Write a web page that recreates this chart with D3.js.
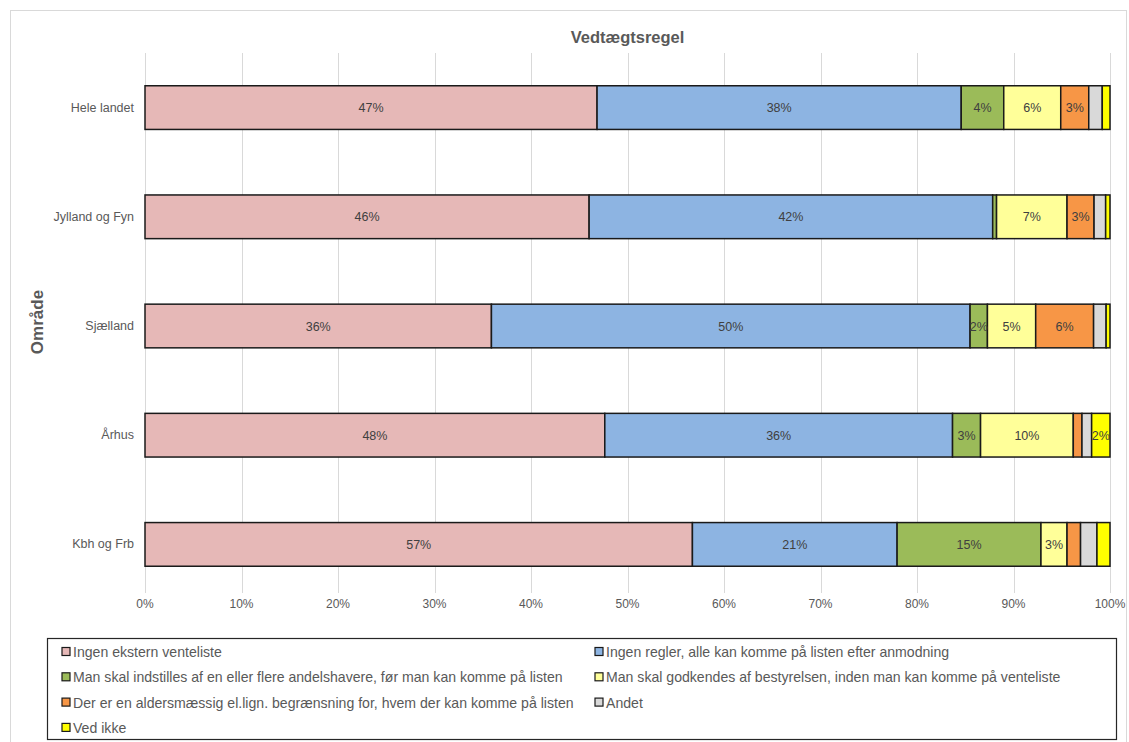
<!DOCTYPE html>
<html>
<head>
    <title>Vedtægtsregel</title>
    <style>
        body { margin: 0; background: #ffffff; }
        #chart text { font-family: "Liberation Sans", Arial, sans-serif; fill: #595959; }
        .grid line { stroke: #d9d9d9; stroke-width: 1; }
        .seg { stroke: #1a1a1a; stroke-width: 1.5; }
    </style>
    <script src="https://d3js.org/d3.v7.min.js"></script>
</head>
<body>
<div id="chart"></div>
<script>
    // data (percent of each area)
    var categories = ["Hele landet", "Jylland og Fyn", "Sjælland", "Århus", "Kbh og Frb"];
    var seriesNames = [
        "Ingen ekstern venteliste",
        "Ingen regler, alle kan komme på listen efter anmodning",
        "Man skal indstilles af en eller flere andelshavere, før man kan komme på listen",
        "Man skal godkendes af bestyrelsen, inden man kan komme på venteliste",
        "Der er en aldersmæssig el.lign. begrænsning for, hvem der kan komme på listen",
        "Andet",
        "Ved ikke"
    ];
    var ingenEkstern = [46.8, 46.0, 35.9, 47.6, 56.7];
    var ingenRegler  = [37.7, 41.8, 49.6, 36.0, 21.2];
    var indstilles   = [4.4, 0.4, 1.8, 2.9, 14.9];
    var godkendes    = [5.9, 7.3, 5.0, 9.6, 2.7];
    var alder        = [2.9, 2.8, 6.0, 0.9, 1.4];
    var andet        = [1.4, 1.2, 1.3, 1.0, 1.7];
    var vedIkke      = [0.8, 0.45, 0.4, 1.9, 1.35];
    var xTicks = [0, 0.1, 0.2, 0.3, 0.4, 0.5, 0.6, 0.7, 0.8, 0.9, 1];
    var colors = ["#e6b8b7", "#8db4e2", "#9bbb59", "#ffff99", "#f79646", "#d9d9d9", "#ffff00"];

    var allSeries = [ingenEkstern, ingenRegler, indstilles, godkendes, alder, andet, vedIkke];
    var rows = categories.map(function(c, i) {
        var r = { cat: c };
        seriesNames.forEach(function(s, j) { r[s] = allSeries[j][i]; });
        return r;
    });

    var width = 1129, height = 742;
    var plotLeft = 145, plotRight = 1110, plotTop = 53, plotBottom = 599;

    var svg = d3.select("#chart").append("svg")
        .attr("width", width)
        .attr("height", height);

    // outer frame
    svg.append("rect")
        .attr("x", 10.5).attr("y", 10.5)
        .attr("width", 1116).attr("height", 740)
        .attr("fill", "none").attr("stroke", "#d9d9d9");

    var x = d3.scaleLinear().domain([0, 1]).range([plotLeft, plotRight]);
    var y = d3.scaleBand().domain(categories).range([plotTop, plotBottom]).paddingInner(0.6).paddingOuter(0.3);

    var color = d3.scaleOrdinal().domain(seriesNames).range(colors);

    // grid
    svg.append("g").attr("class", "grid")
        .selectAll("line").data(xTicks).enter().append("line")
        .attr("x1", function(d) { return Math.round(x(d)) + 0.5; })
        .attr("x2", function(d) { return Math.round(x(d)) + 0.5; })
        .attr("y1", plotTop).attr("y2", plotBottom - 6);

    // x tick labels
    svg.append("g").selectAll("text").data(xTicks).enter().append("text")
        .attr("x", function(d) { return x(d); })
        .attr("y", plotBottom + 9)
        .attr("text-anchor", "middle")
        .style("font-size", "12px")
        .text(function(d) { return Math.round(d * 100) + "%"; });

    // category labels
    svg.append("g").selectAll("text").data(categories).enter().append("text")
        .attr("x", plotLeft - 11)
        .attr("y", function(d) { return y(d) + y.bandwidth() / 2 + 4; })
        .attr("text-anchor", "end")
        .style("font-size", "12.5px")
        .text(function(d) { return d; });

    var stack = d3.stack().keys(seriesNames).offset(d3.stackOffsetExpand);
    var stacked = stack(rows);

    var layer = svg.append("g").selectAll("g").data(stacked).enter().append("g")
        .attr("fill", function(d) { return color(d.key); });

    layer.selectAll("rect").data(function(d) { return d; }).enter().append("rect")
        .attr("class", "seg")
        .attr("x", function(d) { return x(d[0]); })
        .attr("y", function(d) { return y(d.data.cat); })
        .attr("width", function(d) { return x(d[1]) - x(d[0]); })
        .attr("height", y.bandwidth());

    // data labels (Andet has none)
    stacked.forEach(function(s) {
        if (s.key === "Andet") return;
        svg.append("g").selectAll("text").data(s.filter(function(d) {
                return Math.round((d[1] - d[0]) * 100) >= 2;
            })).enter()
            .append("text")
            .attr("x", function(d) { return (x(d[0]) + x(d[1])) / 2; })
            .attr("y", function(d) { return y(d.data.cat) + y.bandwidth() / 2 + 4.5; })
            .attr("text-anchor", "middle")
            .style("font-size", "12.5px")
            .style("fill", "#404040")
            .text(function(d) { return Math.round((d[1] - d[0]) * 100) + "%"; });
    });

    // title
    svg.append("text")
        .attr("x", (plotLeft + plotRight) / 2).attr("y", 43)
        .attr("text-anchor", "middle")
        .style("font-size", "16.5px").style("font-weight", "bold")
        .text("Vedtægtsregel");

    // y axis title
    svg.append("text")
        .attr("transform", "translate(43," + 322 + ") rotate(-90)")
        .attr("text-anchor", "middle")
        .style("font-size", "17px").style("font-weight", "bold")
        .text("Område");

    // legend
    var lg = svg.append("g");
    lg.append("rect")
        .attr("x", 47.5).attr("y", 638.5)
        .attr("width", 1069).attr("height", 101)
        .attr("fill", "none").attr("stroke", "#262626").attr("stroke-width", 1.2);

    var items = lg.selectAll("g.item").data(seriesNames).enter().append("g")
        .attr("transform", function(d, i) {
            return "translate(" + (i % 2 === 0 ? 62 : 595) + "," + (652 + Math.floor(i / 2) * 25.3) + ")";
        });
    items.append("rect")
        .attr("x", 0).attr("y", -4.5).attr("width", 8).attr("height", 8)
        .attr("fill", function(d) { return color(d); })
        .attr("stroke", "#1a1a1a").attr("stroke-width", 1.2);
    items.append("text")
        .attr("x", 11).attr("y", 5)
        .style("font-size", "14.1px")
        .text(function(d) { return d; });
</script>
</body>
</html>
